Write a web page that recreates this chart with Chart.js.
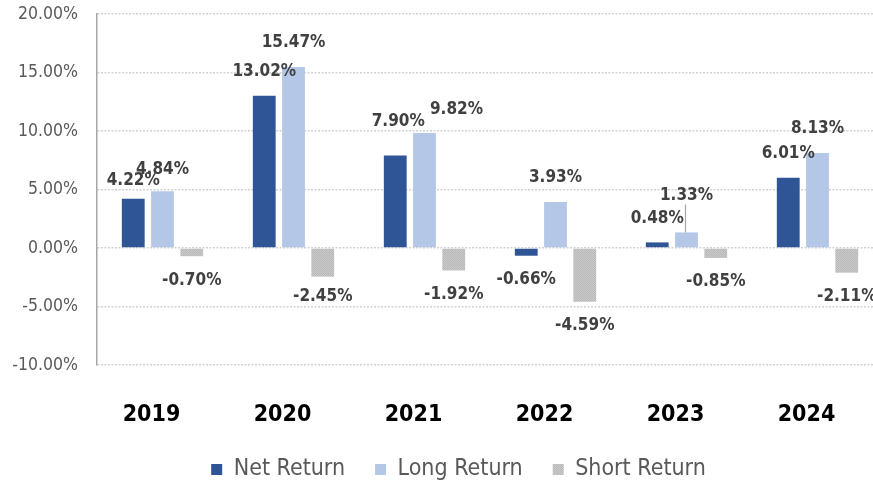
<!DOCTYPE html>
<html>
<head>
<meta charset="utf-8">
<script src="https://cdn.jsdelivr.net/npm/chart.js@4.4.1/dist/chart.umd.min.js"></script>
<style>
  html, body { margin: 0; padding: 0; background: #fff; overflow: hidden; }
  #wrap { width: 900px; height: 484px; }
</style>
</head>
<body>
<div id="wrap"><canvas id="chart" width="900" height="484"></canvas></div>
<script>
// Data
const years = ['2019', '2020', '2021', '2022', '2023', '2024'];
const netReturn = [4.22, 13.02, 7.90, -0.66, 0.48, 6.01];
const longReturn = [4.84, 15.47, 9.82, 3.93, 1.33, 8.13];
const shortReturn = [-0.70, -2.45, -1.92, -4.59, -0.85, -2.11];
const yTicks = [-10, -5, 0, 5, 10, 15, 20];

// label nudges (dataset, index) -> [dx, dy], and leader lines
const labelNudge = {
  '0-0': [0, 6], '1-0': [0, 2], '2-1': [0, -4],
  '0-2': [3, -10], '1-2': [32, 0], '1-4': [0, -13]
};
const leaderLines = ['1-4'];
const LABEL_GAP = 24;
const FONT = '"DejaVu Sans Condensed", "Liberation Sans Narrow", sans-serif';

// dotted grey fill for the short bars
function makePattern() {
  const c = document.createElement('canvas');
  c.width = 2; c.height = 2;
  const g = c.getContext('2d');
  g.fillStyle = '#c9c9c9'; g.fillRect(0, 0, 2, 2);
  g.fillStyle = '#b9b9b9'; g.fillRect(0, 0, 1, 1); g.fillRect(1, 1, 1, 1);
  return g.createPattern(c, 'repeat');
}

const barLabels = {
  id: 'barLabels',
  afterDatasetsDraw(chart) {
    const ctx = chart.ctx;
    ctx.save();
    ctx.font = 'bold 17px ' + FONT;
    ctx.fillStyle = '#404040';
    ctx.textAlign = 'center';
    ctx.textBaseline = 'middle';
    chart.data.datasets.forEach((ds, i) => {
      const meta = chart.getDatasetMeta(i);
      meta.data.forEach((bar, j) => {
        const v = ds.data[j];
        const key = i + '-' + j;
        const n = labelNudge[key] || [0, 0];
        const x = bar.x + n[0];
        const y = (v >= 0 ? bar.y - LABEL_GAP : bar.y + LABEL_GAP) + n[1];
        if (leaderLines.includes(key)) {
          ctx.save();
          ctx.strokeStyle = '#a6a6a6';
          ctx.lineWidth = 1.2;
          ctx.beginPath();
          ctx.moveTo(bar.x - 1, bar.y);
          ctx.lineTo(bar.x - 1, y + 9);
          ctx.stroke();
          ctx.restore();
        }
        ctx.fillText(v.toFixed(2) + '%', x, y);
      });
    });
    ctx.restore();
  }
};

const legendShift = {
  id: 'legendShift',
  afterLayout(chart) {
    const l = chart.legend;
    l.left += 17; l.right += 17;
    l.top += 7; l.bottom += 7;
  }
};

const ctx = document.getElementById('chart').getContext('2d');
const chart = new Chart(ctx, {
  type: 'bar',
  data: {
    labels: years,
    datasets: [
      { label: 'Net Return', data: netReturn, backgroundColor: '#2f5597' },
      { label: 'Long Return', data: longReturn, backgroundColor: '#b4c7e7' },
      { label: 'Short Return', data: shortReturn, backgroundColor: makePattern() }
    ]
  },
  options: {
    responsive: false,
    animation: false,
    categoryPercentage: 0.67,
    barPercentage: 0.78,
    layout: { padding: { left: 0, right: 17, top: 14, bottom: 0 } },
    scales: {
      x: {
        grid: { display: false, drawTicks: false },
        border: { display: false },
        ticks: {
          color: '#000',
          font: { family: FONT, size: 23, weight: 'bold' },
          padding: 36,
          labelOffset: -11
        },
        afterFit(scale) {
          const lh = scale.chart.legend ? scale.chart.legend.height : 0;
          scale.height = 484 - 365 - lh;
        }
      },
      y: {
        min: -10,
        max: 20,
        afterBuildTicks(scale) {
          scale.ticks = yTicks.map(v => ({ value: v }));
        },
        grid: { color: '#d2d2d2', lineWidth: 1.5, drawTicks: false },
        border: { display: true, color: '#a6a6a6', width: 1.5, dash: [2, 1.5] },
        ticks: {
          color: '#595959',
          font: { family: FONT, size: 17.5 },
          padding: 19,
          callback: v => v.toFixed(2) + '%'
        },
        afterFit(scale) {
          scale.width = 97;
          scale.paddingTop = 0;
          scale.paddingBottom = 0;
        }
      }
    },
    plugins: {
      legend: {
        position: 'bottom',
        labels: {
          color: '#595959',
          font: { family: FONT, size: 23 },
          boxWidth: 11,
          boxHeight: 11,
          padding: 30
        }
      },
      tooltip: { enabled: false }
    }
  },
  plugins: [barLabels, legendShift]
});
</script>
</body>
</html>
